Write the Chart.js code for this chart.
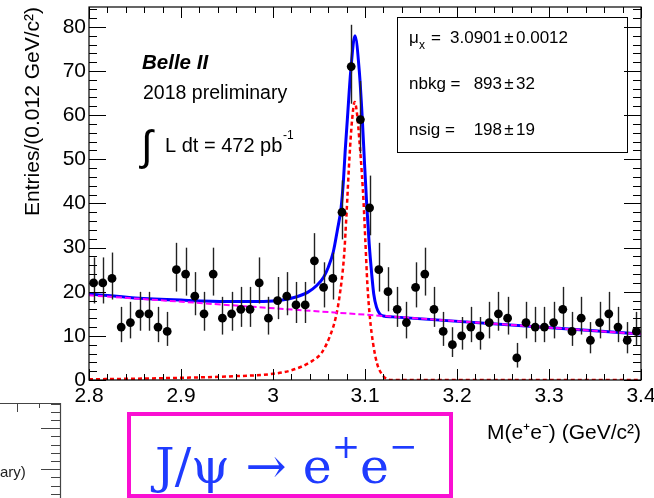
<!DOCTYPE html>
<html>
<head>
<meta charset="UTF-8">
<title>J/psi -> e+e-</title>
<script src="https://cdn.jsdelivr.net/npm/chart.js@4.4.0/dist/chart.umd.min.js"></script>
<style>
body{margin:0;background:#fff;}
canvas{display:block;}
</style>
</head>
<body>
<canvas id="myChart" width="654" height="498"></canvas>
<script>
// histogram: bin centres (GeV/c^2) and entries per bin
var massBins = [2.805, 2.815, 2.825, 2.835, 2.845, 2.855, 2.865, 2.875, 2.885, 2.895,
                2.905, 2.915, 2.925, 2.935, 2.945, 2.955, 2.965, 2.975, 2.985, 2.995,
                3.005, 3.015, 3.025, 3.035, 3.045, 3.055, 3.065, 3.075, 3.085, 3.095,
                3.105, 3.115, 3.125, 3.135, 3.145, 3.155, 3.165, 3.175, 3.185, 3.195,
                3.205, 3.215, 3.225, 3.235, 3.245, 3.255, 3.265, 3.275, 3.285, 3.295,
                3.305, 3.315, 3.325, 3.335, 3.345, 3.355, 3.365, 3.375, 3.385, 3.395];
var entries = [22, 22, 23, 12, 13, 15, 15, 12, 11, 25,
               24, 19, 15, 24, 14, 15, 16, 16, 22, 14,
               18, 19, 17, 17, 27, 21, 23, 38, 71, 59,
               39, 25, 20, 16, 13, 21, 24, 16, 11, 8,
               10, 12, 10, 13, 15, 14, 5, 13, 12, 12,
               13, 16, 11, 14, 9, 13, 15, 12, 9, 11];

// fit result, sampled along the mass axis
var bkgMass = [2.8, 3.4];
var bkgCurve = [19.2, 10.4];

var sigMass = [2.800, 2.850, 2.900, 2.950, 3.000, 3.020, 3.040, 3.053, 3.062, 3.068,
               3.072, 3.0772, 3.080, 3.083, 3.086, 3.0888, 3.0915, 3.094, 3.0965, 3.0985,
               3.1005, 3.1025, 3.1054, 3.109, 3.113, 3.118, 3.123, 3.128, 3.400];
var sigCurve = [0.15, 0.3, 0.5, 0.8, 1.4, 2.2, 4.0, 6.2, 10.0, 14.0,
                18.5, 28, 38, 50, 59, 63, 60, 54, 47, 40,
                31, 22, 14, 8, 3.8, 1.4, 0.3, 0, 0];

var totMass = [2.800, 2.850, 2.900, 2.950, 2.990, 3.010, 3.025, 3.038, 3.0475, 3.055,
               3.060, 3.0655, 3.070, 3.074, 3.0765, 3.0785, 3.0808, 3.0845, 3.0891, 3.0938,
               3.0971, 3.0995, 3.1018, 3.1045, 3.1073, 3.1095, 3.1125, 3.116, 3.120, 3.130, 3.400];
var totCurve = [19.5, 18.6, 18.1, 17.8, 17.8, 18.1, 18.8, 19.9, 21.4, 23.3,
                25.5, 29, 34, 39, 45, 52, 59, 70, 78, 70,
                59, 49, 40, 31, 24, 19.5, 16.5, 15.0, 14.5, 14.3, 10.4];

// axis ticks
var xMajor = [2.8, 2.9, 3.0, 3.1, 3.2, 3.3, 3.4];
var xMinorStep = 0.02;
var yMajorStep = 10;
var yMinorStep = 2;

var fitText = [
    ['nbkg =', '893', '32'],
    ['nsig =', '198', '19']
];

var FONT = 'Liberation Sans, Arial, Helvetica, sans-serif';

function pairs(xs, ys) {
    return xs.map(function(x, i) { return {x: x, y: ys[i]}; });
}

var rootStyle = {
    id: 'rootStyle',
    beforeDatasetDraw: function(chart, args) {
        if (args.index !== 0) return;
        // asymmetric Poisson error bars under the markers
        var xs = chart.scales.x, ys = chart.scales.y, ctx = chart.ctx;
        ctx.save();
        ctx.strokeStyle = '#222';
        ctx.lineWidth = 1.4;
        massBins.forEach(function(m, i) {
            var n = entries[i];
            var lo = n - Math.sqrt(n - 0.25);
            var hi = n + Math.sqrt(n + 0.75) + 1;
            var px = Math.round(xs.getPixelForValue(m)) + 0.5;
            ctx.beginPath();
            ctx.moveTo(px, ys.getPixelForValue(lo));
            ctx.lineTo(px, ys.getPixelForValue(hi));
            ctx.stroke();
        });
        ctx.restore();
    },
    afterDraw: function(chart) {
        var ctx = chart.ctx, a = chart.chartArea;
        var xs = chart.scales.x, ys = chart.scales.y;
        ctx.save();

        // frame with inward ticks on all four sides
        ctx.strokeStyle = '#000';
        ctx.lineWidth = 1.2;
        ctx.strokeRect(a.left, a.top, a.right - a.left, a.bottom - a.top);
        ctx.lineWidth = 1;
        ctx.beginPath();
        for (var v = xMajor[0]; v <= xMajor[xMajor.length - 1] + 1e-9; v += xMinorStep) {
            var px = Math.round(xs.getPixelForValue(v)) + 0.5;
            var major = xMajor.some(function(t) { return Math.abs(t - v) < 1e-6; });
            var len = major ? 11 : 6;
            ctx.moveTo(px, a.bottom); ctx.lineTo(px, a.bottom - len);
            ctx.moveTo(px, a.top); ctx.lineTo(px, a.top + len);
        }
        for (var t = 0; t <= ys.max; t += yMinorStep) {
            var py = Math.round(ys.getPixelForValue(t)) + 0.5;
            var l2 = (t % yMajorStep === 0) ? 17 : 8;
            ctx.moveTo(a.left, py); ctx.lineTo(a.left + l2, py);
            ctx.moveTo(a.right, py); ctx.lineTo(a.right - l2, py);
        }
        ctx.stroke();

        // experiment label
        ctx.fillStyle = '#000';
        ctx.textAlign = 'left';
        ctx.textBaseline = 'alphabetic';
        ctx.font = 'italic bold 20.5px ' + FONT;
        ctx.fillText('Belle II', 142, 69);
        ctx.font = '19.5px ' + FONT;
        ctx.fillText('2018 preliminary', 143, 99);
        ctx.font = '42px ' + FONT;
        ctx.fillText('\u222B', 141, 160);
        ctx.font = '20px ' + FONT;
        ctx.fillText('L dt = 472 pb', 165, 152);
        ctx.font = '12px ' + FONT;
        ctx.fillText('-1', 283, 139);

        // fit parameter box
        ctx.lineWidth = 1;
        ctx.strokeRect(397.5, 17.5, 230, 135);
        ctx.font = '17px ' + FONT;
        ctx.fillText('\u03BC', 409, 43);
        ctx.font = '12px ' + FONT;
        ctx.fillText('x', 419, 49);
        ctx.font = '17px ' + FONT;
        ctx.fillText('=', 431, 43);
        ctx.textAlign = 'right';
        ctx.fillText('3.0901', 502, 43);
        ctx.textAlign = 'center';
        ctx.fillText('\u00B1', 509, 43);
        ctx.textAlign = 'left';
        ctx.fillText('0.0012', 516, 43);
        fitText.forEach(function(r, i) {
            var by = 89 + i * 46;
            ctx.textAlign = 'left';
            ctx.fillText(r[0], 409, by);
            ctx.textAlign = 'right';
            ctx.fillText(r[1], 502, by);
            ctx.textAlign = 'center';
            ctx.fillText('\u00B1', 509, by);
            ctx.textAlign = 'left';
            ctx.fillText(r[2], 516, by);
        });

        // neighbouring plot, cut by the page edge
        ctx.strokeStyle = '#444';
        ctx.lineWidth = 1.2;
        ctx.beginPath();
        ctx.moveTo(0, 403.5); ctx.lineTo(60.5, 403.5); ctx.lineTo(60.5, 498);
        ctx.stroke();
        ctx.lineWidth = 1;
        ctx.beginPath();
        for (var k = 0; k < 12; k++) {
            var ty = Math.round(403.5 + k * 8.2) + 0.5;
            var big = (k === 3 || k === 8);
            ctx.moveTo(60.5, ty); ctx.lineTo(big ? 41 : 51, ty);
        }
        ctx.moveTo(17.5, 403.5); ctx.lineTo(17.5, 412);
        ctx.moveTo(39.5, 403.5); ctx.lineTo(39.5, 408);
        ctx.stroke();
        ctx.fillStyle = '#222';
        ctx.font = '15px ' + FONT;
        ctx.textAlign = 'left';
        ctx.fillText('ary)', 0, 477);

        // decay channel tag
        ctx.strokeStyle = '#fa0fd2';
        ctx.lineWidth = 4;
        ctx.strokeRect(129, 414, 322, 82);
        ctx.fillStyle = '#1f3bff';
        var fam = 'DejaVu Serif, Liberation Serif, serif';
        var x = 155, base = 483;
        ctx.font = '49px ' + fam;
        ctx.fillText('J/\u03C8', x, base);
        x += ctx.measureText('J/\u03C8').width + 16;
        ctx.fillText('\u2192', x, base);
        x += ctx.measureText('\u2192').width + 16;
        ctx.fillText('e', x, base);
        x += ctx.measureText('e').width;
        ctx.font = '34px ' + fam;
        ctx.fillText('+', x, base - 25);
        x += ctx.measureText('+').width;
        ctx.font = '49px ' + fam;
        ctx.fillText('e', x, base);
        x += ctx.measureText('e').width;
        ctx.font = '34px ' + fam;
        ctx.fillText('\u2212', x, base - 25);

        ctx.restore();
    }
};

var ctx = document.getElementById('myChart').getContext('2d');
var chart = new Chart(ctx, {
    type: 'scatter',
    data: {
        datasets: [{
            label: 'data',
            data: pairs(massBins, entries),
            backgroundColor: '#000',
            borderWidth: 0,
            pointRadius: 4.4
        }, {
            type: 'line',
            label: 'bkg',
            data: pairs(bkgMass, bkgCurve),
            borderColor: '#ff00ff',
            borderWidth: 2,
            borderDash: [6, 3],
            pointRadius: 0,
            fill: false
        }, {
            type: 'line',
            label: 'sig',
            data: pairs(sigMass, sigCurve),
            borderColor: '#ff0000',
            borderWidth: 2.5,
            borderDash: [4, 3],
            pointRadius: 0,
            cubicInterpolationMode: 'monotone',
            fill: false
        }, {
            type: 'line',
            label: 'total',
            data: pairs(totMass, totCurve),
            borderColor: '#0000ff',
            borderWidth: 3,
            pointRadius: 0,
            cubicInterpolationMode: 'monotone',
            fill: false
        }]
    },
    options: {
        responsive: false,
        animation: false,
        events: [],
        layout: { padding: { left: 0, right: 13, top: 7, bottom: 0 } },
        plugins: { legend: { display: false }, tooltip: { enabled: false } },
        scales: {
            x: {
                type: 'linear',
                min: 2.8,
                max: 3.4,
                grid: { display: false, drawTicks: false },
                border: { display: false },
                ticks: {
                    stepSize: 0.1,
                    autoSkip: false,
                    maxRotation: 0,
                    padding: 4,
                    color: '#000',
                    font: { family: FONT, size: 21 },
                    callback: function(v) { return String(+v.toFixed(2)); }
                },
                title: {
                    display: true,
                    text: 'M(e\u207Ae\u207B) (GeV/c\u00B2)',
                    align: 'end',
                    color: '#000',
                    font: { family: FONT, size: 21 },
                    padding: { top: 0, bottom: 52 }
                },
                afterFit: function(s) { s.height = 118; s.paddingLeft = 0; s.paddingRight = 0; }
            },
            y: {
                min: 0,
                max: 84.5,
                grid: { display: false, drawTicks: false },
                border: { display: false },
                ticks: {
                    stepSize: yMajorStep,
                    includeBounds: false,
                    padding: 3,
                    color: '#000',
                    font: { family: FONT, size: 21 }
                },
                title: {
                    display: true,
                    text: 'Entries/(0.012 GeV/c\u00B2)',
                    align: 'end',
                    color: '#000',
                    font: { family: FONT, size: 21 },
                    padding: { top: 21, bottom: 0 }
                },
                afterFit: function(s) { s.width = 89; s.paddingTop = 0; s.paddingBottom = 0; }
            }
        }
    },
    plugins: [rootStyle]
});
</script>
</body>
</html>
